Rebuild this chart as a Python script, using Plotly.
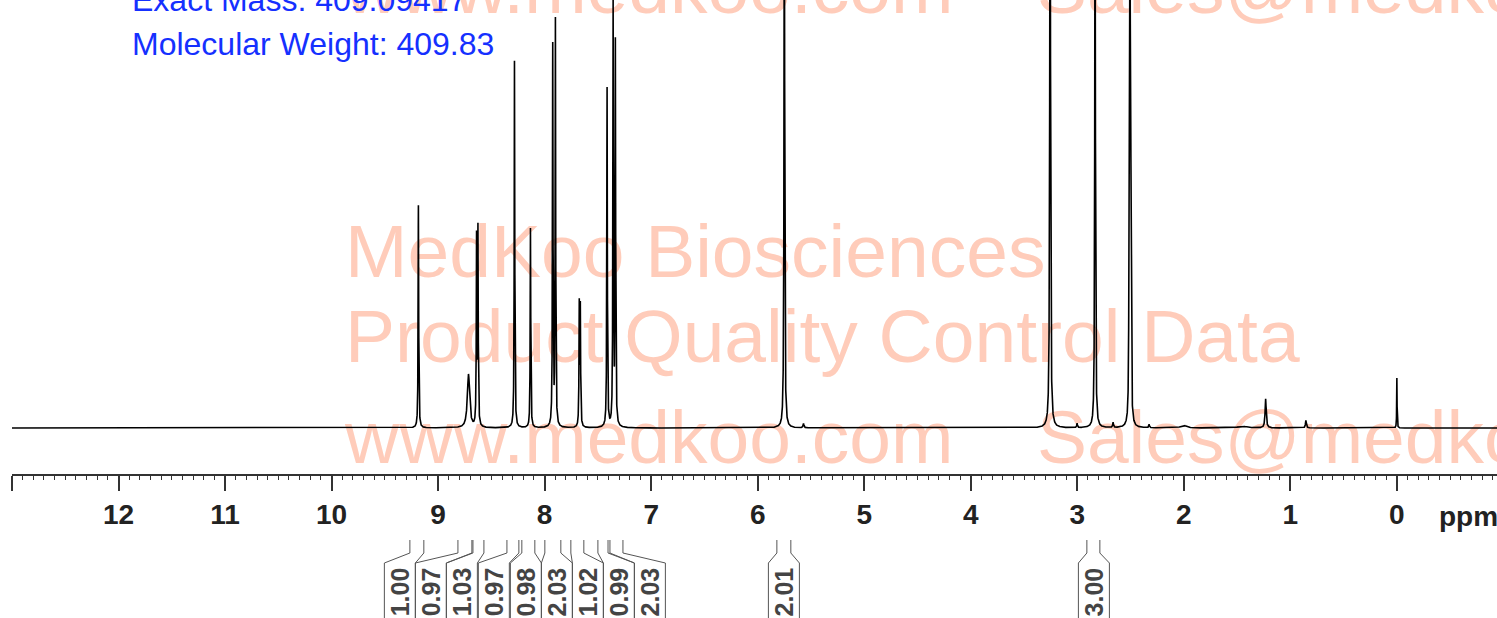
import numpy as np
import plotly.graph_objects as go

# ---------------- data ----------------
# peak list: chemical shift (ppm), relative height, line width (ppm)
peak_ppm = [9.185, 8.715, 8.639, 8.626, 8.283, 8.133, 7.924, 7.899, 7.675, 7.665,
            7.414, 7.357, 7.336, 5.750, 5.570, 3.255, 3.002, 2.833, 2.664,
            2.514, 2.509, 2.505, 2.500, 2.496, 2.326, 2.000, 1.450, 1.232, 0.854, 0.000]
peak_height = [0.521, 0.125, 0.436, 0.455, 0.860, 0.467, 0.888, 0.949, 0.280, 0.273,
               0.797, 0.986, 0.895, 1.400, 0.010, 1.600, 0.010, 1.400, 0.012,
               0.27, 0.55, 0.80, 0.55, 0.27, 0.008, 0.006, 0.004, 0.068, 0.018, 0.117]
peak_width = [0.006, 0.025, 0.006, 0.006, 0.006, 0.006, 0.006, 0.006, 0.006, 0.006,
              0.006, 0.006, 0.006, 0.007, 0.010, 0.008, 0.008, 0.007, 0.008,
              0.006, 0.006, 0.006, 0.006, 0.006, 0.008, 0.060, 0.100, 0.012, 0.010, 0.004]

# x axis
ppm_left, ppm_right = 13.0, -0.94
tick_values = list(range(0, 14))
tick_labels = [str(v) for v in range(0, 13)] + [""]

# integrals: label, range high ppm, range low ppm, label centre ppm
integral_labels = ["1.00", "0.97", "1.03", "0.97", "0.98", "2.03", "1.02", "0.99", "2.03", "2.01", "3.00"]
integral_hi = [9.265, 8.814, 8.673, 8.354, 8.214, 7.998, 7.754, 7.500, 7.387, 5.820, 2.910]
integral_lo = [9.134, 8.683, 8.570, 8.242, 8.092, 7.848, 7.632, 7.405, 7.265, 5.689, 2.788]
integral_center = [9.359, 9.068, 8.777, 8.477, 8.176, 7.885, 7.594, 7.303, 7.012, 5.754, 2.844]

info_lines = ["Exact Mass: 409.09417", "Molecular Weight: 409.83"]
watermark_lines = ["www.medkoo.com    Sales@medkoo.com", "MedKoo Biosciences",
                   "Product Quality Control Data", "www.medkoo.com    Sales@medkoo.com"]
watermark_y = [0.925, 0.397, 0.197, -0.038]
watermark_pos = ["top right", "middle right", "middle right", "middle right"]

# ---------------- build spectrum ----------------
x = np.linspace(ppm_left, ppm_right, 30001)
y = np.zeros_like(x)
for p, h, w in zip(peak_ppm, peak_height, peak_width):
    y += h / (1.0 + ((x - p) / (w / 2.0)) ** 2)

W, H = 1497, 618
ML, MB = 12, 144
plot_h = H - MB  # 474
y_range = [-46 / 428, 1.0]
px_per_ppm = (W - ML) / (ppm_left - ppm_right)


def py(pix):
    """pixel row -> paper y"""
    return (plot_h - pix) / plot_h


fig = go.Figure()

# watermark (drawn first so the spectrum lies on top)
wm_x0 = ppm_left - (345 - ML) / px_per_ppm
fig.add_trace(go.Scatter(
    x=[wm_x0] * len(watermark_lines), y=watermark_y, mode="text",
    text=watermark_lines, textposition=watermark_pos,
    textfont=dict(family="Liberation Sans, Arial, sans-serif", size=75, color="#FFCCBA"),
    hoverinfo="skip", showlegend=False, cliponaxis=False))

fig.add_trace(go.Scatter(x=x, y=y, mode="lines",
                         line=dict(color="black", width=1.6),
                         hoverinfo="skip", showlegend=False))

shapes = []
annotations = []
half_box = 15.5 / px_per_ppm
y_top, y_knee, y_box, y_bot = py(540), py(553), py(563), py(640)
for lab, hi, lo, c in zip(integral_labels, integral_hi, integral_lo, integral_center):
    left_edge = c + half_box
    right_edge = c - half_box
    path = (f"M {left_edge},{y_bot} L {left_edge},{y_box} L {hi},{y_knee} L {hi},{y_top} "
            f"M {right_edge},{y_bot} L {right_edge},{y_box} L {lo},{y_knee} L {lo},{y_top}")
    shapes.append(dict(type="path", xref="x", yref="paper", path=path,
                       line=dict(color="#555555", width=1)))
    annotations.append(dict(x=c, y=py(565), xref="x", yref="paper", text=lab,
                            textangle=-90, showarrow=False, xanchor="center", yanchor="top",
                            font=dict(family="Liberation Sans, Arial, sans-serif", size=25,
                                      color="#444444", weight="bold")))

annotations.append(dict(x=-0.375, y=py(516), xref="x", yref="paper", text="ppm",
                        showarrow=False, xanchor="left", yanchor="middle",
                        font=dict(family="Liberation Sans, Arial, sans-serif", size=28,
                                  color="#222222", weight="bold")))
for i, line in enumerate(info_lines):
    annotations.append(dict(x=(130 - ML) / (W - ML), y=py(0 + 44 * i), xref="paper", yref="paper",
                            text=line, showarrow=False, xanchor="left", yanchor="middle",
                            font=dict(family="Liberation Sans, Arial, sans-serif", size=32,
                                      color="#1530FF")))

fig.update_layout(
    width=W, height=H, autosize=False,
    margin=dict(l=ML, r=0, t=0, b=MB, pad=0),
    paper_bgcolor="white", plot_bgcolor="white",
    showlegend=False,
    shapes=shapes, annotations=annotations,
    xaxis=dict(range=[ppm_left, ppm_right], tickmode="array", tickvals=tick_values,
               ticktext=tick_labels, ticks="outside", ticklen=15, tickwidth=1.5,
               tickcolor="#333333", showline=True, linecolor="#333333", linewidth=1.5,
               showgrid=False, zeroline=False, automargin=False,
               tickfont=dict(family="Liberation Sans, Arial, sans-serif", size=28,
                             color="#222222", weight="bold"),
               minor=dict(dtick=0.1, tick0=0, ticks="outside", ticklen=4, tickwidth=1,
                          tickcolor="#333333", showgrid=False)),
    yaxis=dict(range=y_range, visible=False, showgrid=False, zeroline=False, automargin=False),
)

fig.write_html("out.html", config={"displayModeBar": False},
               post_script="document.body.style.margin='0px';document.body.style.overflow='hidden';")
